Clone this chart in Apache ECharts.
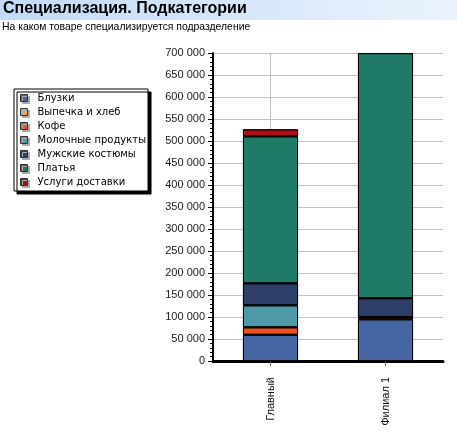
<!DOCTYPE html>
<html>
<head>
<meta charset="utf-8">
<script src="https://cdn.jsdelivr.net/npm/echarts@6/dist/echarts.min.js"></script>
<style>
html,body{margin:0;padding:0;background:#fff;}
#chart{width:457px;height:433px;}
</style>
</head>
<body>
<div id="chart"></div>
<script>
var categories = ['Главный', 'Филиал 1'];
var seriesNames = ['Блузки', 'Выпечка и хлеб', 'Кофе', 'Молочные продукты', 'Мужские костюмы', 'Платья', 'Услуги доставки'];
var blouses = [60000, 95000];
var bakery = [null, null];
var coffee = [16800, 5000];
var dairy = [50000, null];
var menSuits = [50000, 43000];
var dresses = [334000, 557000];
var delivery = [16000, null];
var yTicks = { min: 0, max: 700000, interval: 50000 };

var colors = ['#4566A2', '#F6A446', '#F05020', '#4F98A7', '#2D3F69', '#1F7B67', '#AF0E17'];
var seriesData = [blouses, bakery, coffee, dairy, menSuits, dresses, delivery];

function fmt(v) {
  return String(v).replace(/\B(?=(\d{3})+(?!\d))/g, ' ');
}

var chart = echarts.init(document.getElementById('chart'), null, { renderer: 'canvas' });
var option = {
  animation: false,
  backgroundColor: '#fff',
  color: colors,
  graphic: [{
    type: 'rect',
    z: -10,
    shape: { x: 0, y: 0, width: 457, height: 20 },
    style: {
      fill: new echarts.graphic.LinearGradient(0, 0, 1, 0, [
        { offset: 0, color: '#c2daf6' },
        { offset: 1, color: '#eaf3fd' }
      ])
    },
    silent: true
  }],
  title: [{
    text: 'Специализация. Подкатегории',
    left: 1,
    top: 1,
    padding: [0, 0, 0, 2],
    textStyle: { fontFamily: 'Liberation Sans, Arial, sans-serif', fontSize: 16, fontWeight: 'bold', color: '#000' }
  }, {
    text: 'На каком товаре специализируется подразделение',
    left: 0,
    top: 22,
    padding: [0, 0, 0, 2],
    textStyle: { fontFamily: 'Liberation Sans, Arial, sans-serif', fontSize: 10.4, fontWeight: 'normal', color: '#000' }
  }],
  legend: {
    orient: 'vertical',
    left: 14,
    top: 89,
    padding: [2, 2, 2, 6],
    itemGap: 0,
    itemWidth: 7,
    itemHeight: 7,
    icon: 'rect',
    backgroundColor: '#fff',
    borderColor: '#000',
    borderWidth: 1,
    shadowColor: '#000',
    shadowBlur: 0.1,
    shadowOffsetX: 3,
    shadowOffsetY: 3,
    selectedMode: false,
    itemStyle: {
      borderColor: '#333',
      borderWidth: 1,
      shadowColor: '#aaa',
      shadowBlur: 0.1,
      shadowOffsetX: 2,
      shadowOffsetY: 2
    },
    textStyle: {
      fontFamily: 'DejaVu Sans, sans-serif',
      fontSize: 10,
      color: '#000',
      lineHeight: 14,
      padding: [0, 0, 0, 5]
    },
    data: seriesNames
  },
  grid: { left: 213, top: 53, right: 14, bottom: 72, containLabel: false },
  xAxis: {
    type: 'category',
    data: categories,
    boundaryGap: true,
    axisLine: { show: true, lineStyle: { color: '#000', width: 3 } },
    axisTick: { show: true, alignWithLabel: true, length: 5, lineStyle: { color: '#666' } },
    splitLine: { show: true, alignWithLabel: true, lineStyle: { color: '#c0c0c0', width: 1 } },
    axisLabel: {
      rotate: 90,
      margin: 16,
      fontFamily: 'Liberation Sans, Arial, sans-serif',
      fontSize: 11,
      color: '#111'
    }
  },
  yAxis: {
    type: 'value',
    min: yTicks.min,
    max: yTicks.max,
    interval: yTicks.interval,
    axisLine: { show: true, lineStyle: { color: '#000', width: 2 } },
    axisTick: { show: true, length: 5, lineStyle: { color: '#000' } },
    minorTick: { show: true, splitNumber: 5, length: 3, lineStyle: { color: '#000' } },
    splitLine: { show: true, lineStyle: { color: '#c0c0c0', width: 1 } },
    axisLabel: {
      margin: 8,
      formatter: fmt,
      fontFamily: 'Liberation Sans, Arial, sans-serif',
      fontSize: 11,
      color: '#1a1a1a'
    }
  },
  series: seriesNames.map(function (name, i) {
    return {
      name: name,
      type: 'bar',
      stack: 'total',
      barWidth: 55,
      data: seriesData[i],
      itemStyle: {
        color: colors[i],
        borderColor: '#000',
        borderWidth: 0.9,
        shadowColor: '#000',
        shadowBlur: 0.1,
        shadowOffsetX: 0,
        shadowOffsetY: 0.3
      },
      emphasis: { disabled: true }
    };
  })
};
chart.setOption(option);
</script>
</body>
</html>
